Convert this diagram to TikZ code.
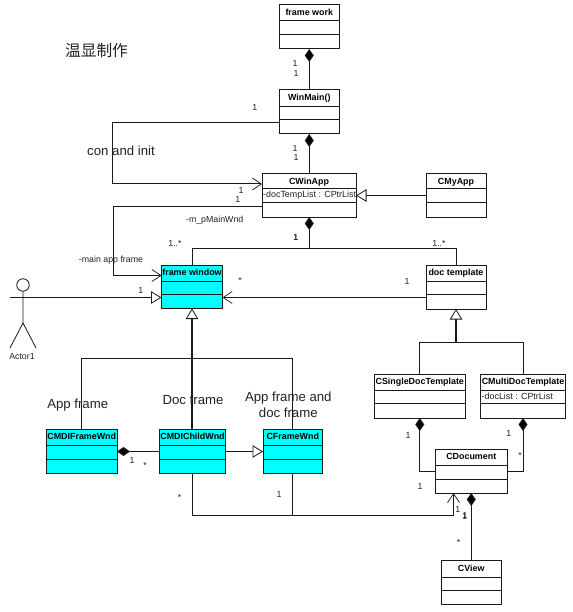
\documentclass[tikz,border=0pt]{standalone}
\usepackage{fontspec}
\setmainfont{Liberation Sans}
\newfontfamily\cjkfont{Noto Sans CJK SC}
\usetikzlibrary{arrows.meta}
\definecolor{uline}{HTML}{1A1A1A}
\definecolor{utext}{HTML}{222222}
\definecolor{ucyan}{HTML}{00FFFF}
\tikzset{
  x=1pt,y=-1pt,
  conn/.style={draw=uline,line width=1pt},
  thickconn/.style={draw=uline,line width=1.5pt},
  compo/.style={{Diamond[length=13pt,width=9pt,fill=black]}-},
  gener/.style={-{Triangle[open,length=10.5pt,width=12.5pt,fill=white,line width=0.8pt]}},
  assoc/.style={-{Straight Barb[length=9pt,width=12pt,line width=0.7pt]}},
  classbody/.style={draw=uline,line width=1pt,inner xsep=0pt,inner ysep=0pt,outer sep=0pt,anchor=north west,text=black,font=\fontsize{8.9}{10}\selectfont\bfseries},
  cyanfill/.style={fill=ucyan},
  whitefill/.style={fill=white},
  small/.style={font=\fontsize{8.8}{10}\selectfont,text=utext,inner sep=0pt},
  attr/.style={font=\fontsize{8.9}{10}\selectfont,text=utext,inner sep=0pt,anchor=west},
  big/.style={font=\fontsize{13.2}{16}\selectfont,text=utext,inner sep=0pt,align=center},
}
% name, x1, y1, x2, y2, divider 1, divider 2, fill style, title
\newcommand{\umlclass}[9]{%
  \pgfmathsetmacro{\cw}{#4-#2}%
  \pgfmathsetmacro{\cd}{#5-#3-10.5}%
  \node[classbody,#8,minimum width=\cw pt,text height=10.5pt,text depth=\cd pt] (#1) at (#2,#3) {#9};
  \draw[uline,line width=1pt] (#1.west |- 0,#6) -- (#1.east |- 0,#6);
  \draw[uline,line width=1pt] (#1.west |- 0,#7) -- (#1.east |- 0,#7);
}
\begin{document}
\begin{tikzpicture}
\useasboundingbox[fill=white] (0,0) rectangle (572,612);

\umlclass{framework}{279.5}{5}{339}{49}{21}{34.5}{whitefill}{frame work}
\umlclass{winmain}{279.5}{90}{339}{134}{106.5}{120}{whitefill}{WinMain()}
\umlclass{cwinapp}{262}{174}{356}{217}{189}{203}{whitefill}{CWinApp}
\umlclass{cmyapp}{426}{174}{486}{217}{189}{203}{whitefill}{CMyApp}
\umlclass{doctemplate}{426}{265}{486}{309}{281}{294.5}{whitefill}{doc template}
\umlclass{framewindow}{161.5}{265}{222.5}{308.5}{281}{294.5}{cyanfill}{frame window}
\umlclass{mdiframe}{46.5}{429}{117}{473}{445}{459}{cyanfill}{CMDIFrameWnd}
\umlclass{mdichild}{159.5}{429}{225.5}{473}{445}{459}{cyanfill}{CMDIChildWnd}
\umlclass{cframewnd}{263}{429}{322.5}{473}{445}{459}{cyanfill}{CFrameWnd}
\umlclass{csingle}{374.5}{374}{465}{418}{390}{403}{whitefill}{CSingleDocTemplate}
\umlclass{cmulti}{480.5}{374}{565.5}{418}{390}{403}{whitefill}{CMultiDocTemplate}
\umlclass{cdocument}{435.5}{449}{507}{493}{465}{479}{whitefill}{CDocument}
\umlclass{cview}{441.5}{560.5}{501}{604}{577}{590}{whitefill}{CView}

\node[attr] (attrapp) at (263,195.5) {-docTempList : CPtrList};
\node[attr] (attrmulti) at (481.5,396) {-docList : CPtrList};

% actor
\node[draw=uline,line width=0.8pt,circle,minimum size=12.5pt,inner sep=0pt] (actorhead) at (23,285) {};
\coordinate (actorhip) at (23,323);
\coordinate (actorarm) at (10,297.5);
\coordinate (actorfootl) at (10,348);
\coordinate (actorfootr) at (36,348);
\draw[conn,line width=0.8pt] (actorhead.south) -- (actorhip) -- (actorfootl);
\draw[conn,line width=0.8pt] (actorhip) -- (actorfootr);
\node[small] (actorname) at (22,356.5) {Actor1};

% composition
\draw[conn,compo] (framework.south) -- (winmain.north);
\draw[conn,compo] (winmain.south) -- (cwinapp.north -| winmain.south);
\draw[conn,compo] (cwinapp.south -| winmain.south) -- (winmain.south |- 0,248.5);
\coordinate (bus) at (309,248.5);
\draw[conn] (framewindow.north) -- (framewindow.north |- bus) -- (doctemplate.north |- bus) -- (doctemplate.north);

% associations
\draw[conn,assoc] (winmain.west |- 0,123) -- (112,123) -- (112,184) -- (cwinapp.west |- 0,184);
\draw[conn,assoc] (cwinapp.west |- 0,206.5) -- (113.5,206.5) -- (113.5,275.5) -- (framewindow.west |- 0,275.5);
\draw[conn,gener] (actorarm) -- (framewindow.west |- actorarm);
\draw[conn,assoc] (doctemplate.west |- 0,297.5) -- (framewindow.east |- 0,297.5);
\draw[conn,gener] (cmyapp.west) -- (cwinapp.east);

% inheritance of frame window
\draw[thickconn,gener] (mdichild.north -| framewindow.south) -- (framewindow.south);
\coordinate (framebus) at (192,358);
\draw[conn] (mdiframe.north) -- (mdiframe.north |- framebus) -- (cframewnd.north |- framebus) -- (cframewnd.north);

% inheritance of doc template
\coordinate (docbus) at (456,342);
\draw[thickconn,gener] (docbus) -- (doctemplate.south);
\draw[conn] (csingle.north) -- (csingle.north |- docbus) -- (cmulti.north |- docbus) -- (cmulti.north);

% frame classes
\draw[conn,compo] (mdiframe.east |- 0,451.5) -- (mdichild.west |- 0,451.5);
\draw[conn,gener] (mdichild.east |- 0,451.5) -- (cframewnd.west |- 0,451.5);
\draw[conn,assoc] (mdichild.south) -- (mdichild.south |- 0,515.5) -- (453.5,515.5) -- (cdocument.south -| 453.5,0);
\draw[conn] (cframewnd.south) -- (cframewnd.south |- 0,515.5);

% document
\draw[conn,compo] (cdocument.south -| cview.north) -- (cview.north);
\draw[conn,compo] (csingle.south) -- (csingle.south |- 0,471) -- (cdocument.west |- 0,471);
\draw[conn,compo] (cmulti.south) -- (cmulti.south |- 0,471) -- (cdocument.east |- 0,471);

% texts
\node[font=\cjkfont\fontsize{15.7}{18}\selectfont,inner sep=0pt,text=utext] (author) at (96.5,51) {温显制作};
\node[big] (conlabel) at (121,151) {con and init};
\node[big] (appframe) at (77.7,405) {App frame};
\node[big] (docframe) at (193,400) {Doc frame};
\node[big] (appdoc) at (288.3,405) {App frame and\\doc frame};
\node[small] (mainwnd) at (214.7,220.7) {-m\_pMainWnd};
\node[small] (mainframe) at (111,260) {-main app frame};

\foreach \px/\py [count=\i] in {295/63,296/73,254.7/107,295/148,296/157,295.7/237,295.9/237.3,407/281.5,241/190,237.7/199,140.7/290.5,132/460,279/494,408/435,508.7/433.5,420/486,457.7/509,465/515.5,464.5/516.5}
  \node[small] (one\i) at (\px,\py) {1};
\node[small] (many1) at (439,243) {1..*};
\node[small] (many2) at (175,243.5) {1..*};
\foreach \px/\py [count=\i] in {240/280.5,145/465,179.7/497,520/455,458.7/542}
  \node[small] (star\i) at (\px,\py) {*};
\end{tikzpicture}
\end{document}
